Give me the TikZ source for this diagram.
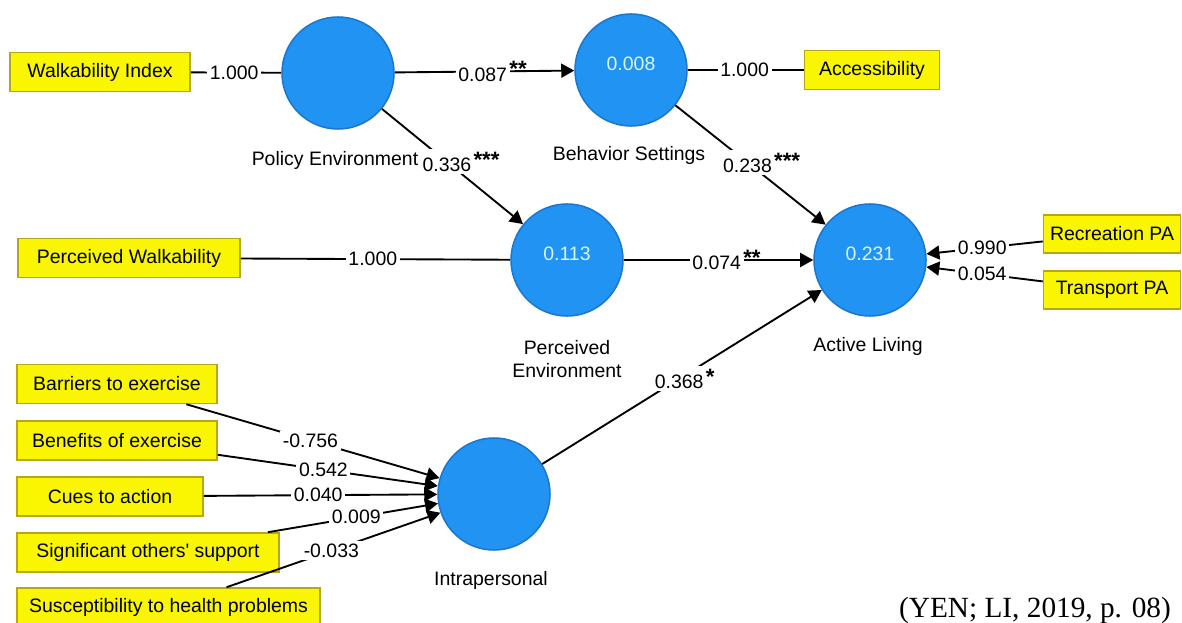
\documentclass[tikz,border=0pt]{standalone}
\usepackage{fontspec}
\setmainfont{Liberation Sans}
\newfontfamily\citefont{Liberation Serif}
\usetikzlibrary{arrows.meta}
\definecolor{lvfill}{RGB}{33,148,243}
\definecolor{lvdraw}{RGB}{28,118,205}
\definecolor{lvtext}{RGB}{215,246,255}
\definecolor{mvfill}{RGB}{250,245,0}
\definecolor{mvdraw}{RGB}{185,165,25}
\newcommand{\labfont}{\fontsize{16.6}{19}\selectfont}
\newcommand{\stars}[1]{\rlap{\hspace{0.12em}\raisebox{0.22em}{\fontsize{19}{19}\selectfont\bfseries #1}}}
\tikzset{
    latent/.style={circle, minimum size=3.36cm, inner sep=0pt, draw=lvdraw, line width=1.3pt, fill=lvfill, text=lvtext, text depth=0.36cm, font=\labfont},
    indicator/.style={rectangle, minimum height=1.17cm, inner sep=0pt, draw=mvdraw, line width=1.3pt, fill=mvfill, text centered, font=\labfont},
    caption/.style={align=center, font=\labfont},
    coef/.style={fill=white, inner sep=0.08cm, font=\labfont},
    link/.style={line width=1.6pt},
    effect/.style={line width=1.6pt, -{Triangle[length=0.39cm, width=0.42cm]}}
}
\begin{document}
\begin{tikzpicture}[x=0.03cm, y=-0.03cm]
        % Canvas
        \path[use as bounding box, fill=white] (0,0) rectangle (1182,623);

        % Latent variables
        \node (pe) [latent] at (338,73) {};
        \node (bs) [latent] at (631,70) {0.008};
        \node (penv) [latent] at (567,260) {0.113};
        \node (al) [latent] at (870,260) {0.231};
        \node (intra) [latent] at (494,494) {};

        % Captions
        \node (pecap) [caption] at (335,160) {Policy Environment};
        \node (bscap) [caption] at (629,155) {Behavior Settings};
        \node (penvcap) [caption] at (567,359) {Perceived\\Environment};
        \node (alcap) [caption] at (868,346) {Active Living};
        \node (intracap) [caption] at (491,580) {Intrapersonal};

        % Indicators
        \node (walk) [indicator, minimum width=5.4cm] at (100,72) {Walkability Index};
        \node (access) [indicator, minimum width=4.05cm] at (872,70) {Accessibility};
        \node (pwalk) [indicator, minimum width=6.66cm] at (129,258) {Perceived Walkability};
        \node (recpa) [indicator, minimum width=4.11cm, minimum height=1.14cm] at (1112,234) {Recreation PA};
        \node (trpa) [indicator, minimum width=4.11cm, minimum height=1.14cm] at (1112,290) {Transport PA};
        \node (barr) [indicator, minimum width=6cm] at (117,384) {Barriers to exercise};
        \node (bene) [indicator, minimum width=6cm] at (117,440.5) {Benefits of exercise};
        \node (cues) [indicator, minimum width=5.58cm] at (110,496.5) {Cues to action};
        \node (soth) [indicator, minimum width=7.86cm] at (148,552.5) {Significant others\textquotesingle{} support};
        \node (susc) [indicator, minimum width=9.09cm] at (168.5,607.5) {Susceptibility to health problems};

        % Outer loadings and weights
        \draw[link] (walk) -- (pe) node[coef, pos=0.48] {1.000};
        \draw[link] (bs) -- (access) node[coef, pos=0.49] {1.000};
        \draw[link] (pwalk) -- (penv) node[coef, pos=0.49] {1.000};
        \draw[effect] (recpa) -- (al) node[coef, pos=0.52] {0.990};
        \draw[effect] (trpa) -- (al) node[coef, pos=0.52] {0.054};
        \draw[effect] (barr) -- (intra) node[coef, pos=0.49] {-0.756};
        \draw[effect] (bene) -- (intra) node[coef, pos=0.48] {0.542};
        \draw[effect] (cues) -- (intra) node[coef, pos=0.49] {0.040};
        \draw[effect] (soth) -- (intra) node[coef, pos=0.52] {0.009};
        \draw[effect] (susc) -- (intra) node[coef, pos=0.49] {-0.033};

        % Path coefficients
        \draw[effect] (pe) -- (bs) node[coef, pos=0.49] {0.087\stars{**}};
        \draw[effect] (pe) -- (penv) node[coef, pos=0.46] {0.336\stars{***}};
        \draw[effect] (bs) -- (al) node[coef, pos=0.48] {0.238\stars{***}};
        \draw[effect] (penv) -- (al) node[coef, pos=0.49] {0.074\stars{**}};
        \draw[effect] (intra) -- (al) node[coef, pos=0.49] {0.368\stars{*}};

        % Source
        \node (cite) [anchor=base east, font=\citefont\fontsize{25}{29}\selectfont] at (1175,617) {(YEN; LI, 2019, p. 08)};
\end{tikzpicture}
\end{document}
